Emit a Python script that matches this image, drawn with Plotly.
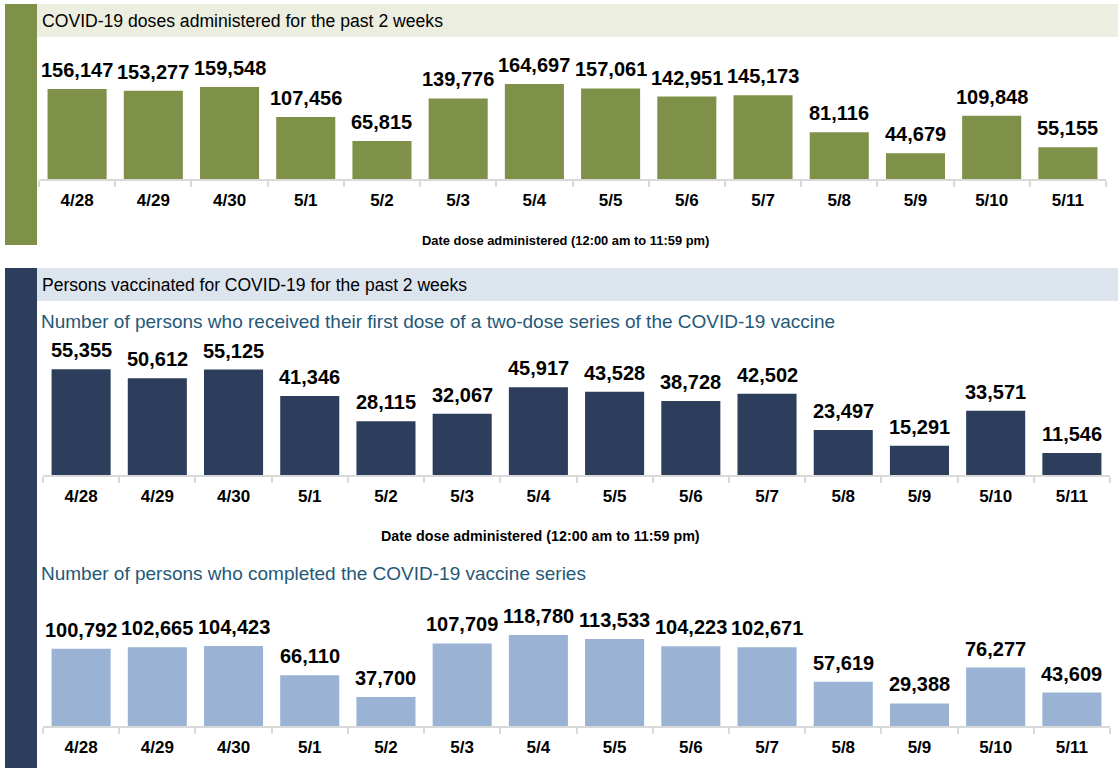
import plotly.graph_objects as go

# ---------------- data ----------------
dates = ["4/28", "4/29", "4/30", "5/1", "5/2", "5/3", "5/4",
         "5/5", "5/6", "5/7", "5/8", "5/9", "5/10", "5/11"]
doses = [156147, 153277, 159548, 107456, 65815, 139776, 164697,
         157061, 142951, 145173, 81116, 44679, 109848, 55155]
first_dose = [55355, 50612, 55125, 41346, 28115, 32067, 45917,
              43528, 38728, 42502, 23497, 15291, 33571, 11546]
completed = [100792, 102665, 104423, 66110, 37700, 107709, 118780,
             113533, 104223, 102671, 57619, 29388, 76277, 43609]

header1 = "COVID-19 doses administered for the past 2 weeks"
header2 = "Persons vaccinated for COVID-19 for the past 2 weeks"
sub1 = "Number of persons who received their first dose of a two-dose series of the COVID-19 vaccine"
sub2 = "Number of persons who completed the COVID-19 vaccine series"
axis_title = "Date dose administered (12:00 am to 11:59 pm)"

# ---------------- style ----------------
W, H = 1118, 768
FONT = "Liberation Sans, Arial, sans-serif"
GREEN = "#7f9148"
GREEN_LIGHT = "#eceee0"
NAVY = "#2c3e5c"
BLUE_LIGHT_BAND = "#dce4ee"
LIGHT_BLUE = "#9ab3d5"
SUB_COLOR = "#245877"
AXIS_GRAY = "#d9d9d9"


def px(x):
    return x / W


def py(y):
    return 1 - y / H


fig = go.Figure()

panels = [
    # values, color, xaxis, yaxis, x domain px, (top px, base px), units per px
    (doses, GREEN, "x", "y", (39, 1106), (40, 179), 1735),
    (first_dose, NAVY, "x2", "y2", (43, 1110), (335, 475), 523),
    (completed, LIGHT_BLUE, "x3", "y3", (43, 1110), (590, 726), 1305),
]

annotations = []
layout_axes = {}
for idx, (vals, color, xa, ya, (x0, x1), (top, base), upp) in enumerate(panels):
    fig.add_trace(go.Bar(
        x=dates, y=vals, xaxis=xa, yaxis=ya,
        marker=dict(color=color, line=dict(width=0)),
        hoverinfo="x+y", showlegend=False,
    ))
    n = "" if idx == 0 else str(idx + 1)
    layout_axes["xaxis" + n] = dict(
        domain=[px(x0), px(x1)], anchor=ya, type="category",
        showline=True, linecolor=AXIS_GRAY, linewidth=1.5,
        ticks="outside", tickson="boundaries", ticklen=6, tickcolor=AXIS_GRAY,
        tickwidth=1.5, ticklabelstandoff=5,
        tickfont=dict(family=FONT, size=17, color="#000000", weight="bold"),
        showgrid=False, zeroline=False, fixedrange=True,
    )
    layout_axes["yaxis" + n] = dict(
        domain=[py(base), py(top)], anchor=xa,
        range=[0, (base - top) * upp], visible=False, fixedrange=True,
    )
    for d, v in zip(dates, vals):
        annotations.append(dict(
            x=d, y=v, xref=xa, yref=ya, text=f"{v:,}", showarrow=False,
            xanchor="center", yanchor="bottom", yshift=6,
            font=dict(family=FONT, size=20, color="#000000", weight="bold"),
        ))

# header texts
annotations += [
    dict(x=px(40), y=py(21), xref="paper", yref="paper", text=header1,
         showarrow=False, xanchor="left", yanchor="middle",
         font=dict(family=FONT, size=17.6, color="#000000")),
    dict(x=px(40), y=py(285), xref="paper", yref="paper", text=header2,
         showarrow=False, xanchor="left", yanchor="middle",
         font=dict(family=FONT, size=17.5, color="#000000")),
    dict(x=px(39), y=py(321), xref="paper", yref="paper", text=sub1,
         showarrow=False, xanchor="left", yanchor="middle",
         font=dict(family=FONT, size=19, color=SUB_COLOR)),
    dict(x=px(39), y=py(573), xref="paper", yref="paper", text=sub2,
         showarrow=False, xanchor="left", yanchor="middle",
         font=dict(family=FONT, size=19, color=SUB_COLOR)),
    dict(x=px(565), y=py(240), xref="paper", yref="paper", text=axis_title,
         showarrow=False, xanchor="center", yanchor="middle",
         font=dict(family=FONT, size=12.9, color="#000000", weight="bold")),
    dict(x=px(540), y=py(536), xref="paper", yref="paper", text=axis_title,
         showarrow=False, xanchor="center", yanchor="middle",
         font=dict(family=FONT, size=14.3, color="#000000", weight="bold")),
]

shapes = [
    # left colour bars
    dict(type="rect", xref="paper", yref="paper", x0=px(5), x1=px(37),
         y0=py(245), y1=py(4), fillcolor=GREEN, line=dict(width=0), layer="below"),
    dict(type="rect", xref="paper", yref="paper", x0=px(5), x1=px(37),
         y0=py(768), y1=py(268), fillcolor=NAVY, line=dict(width=0), layer="below"),
    # header bands
    dict(type="rect", xref="paper", yref="paper", x0=px(37), x1=px(1118),
         y0=py(37), y1=py(4), fillcolor=GREEN_LIGHT, line=dict(width=0), layer="below"),
    dict(type="rect", xref="paper", yref="paper", x0=px(37), x1=px(1118),
         y0=py(301), y1=py(268), fillcolor=BLUE_LIGHT_BAND, line=dict(width=0), layer="below"),
]

fig.update_layout(
    width=W, height=H, autosize=False,
    margin=dict(l=0, r=0, t=0, b=0, pad=0),
    paper_bgcolor="#ffffff", plot_bgcolor="#ffffff",
    bargap=0.225,
    annotations=annotations, shapes=shapes,
    font=dict(family=FONT),
    **layout_axes,
)

fig.write_html(
    "out.html",
    config={"displayModeBar": False},
    post_script="document.body.style.margin='0';document.body.style.overflow='hidden';",
)
